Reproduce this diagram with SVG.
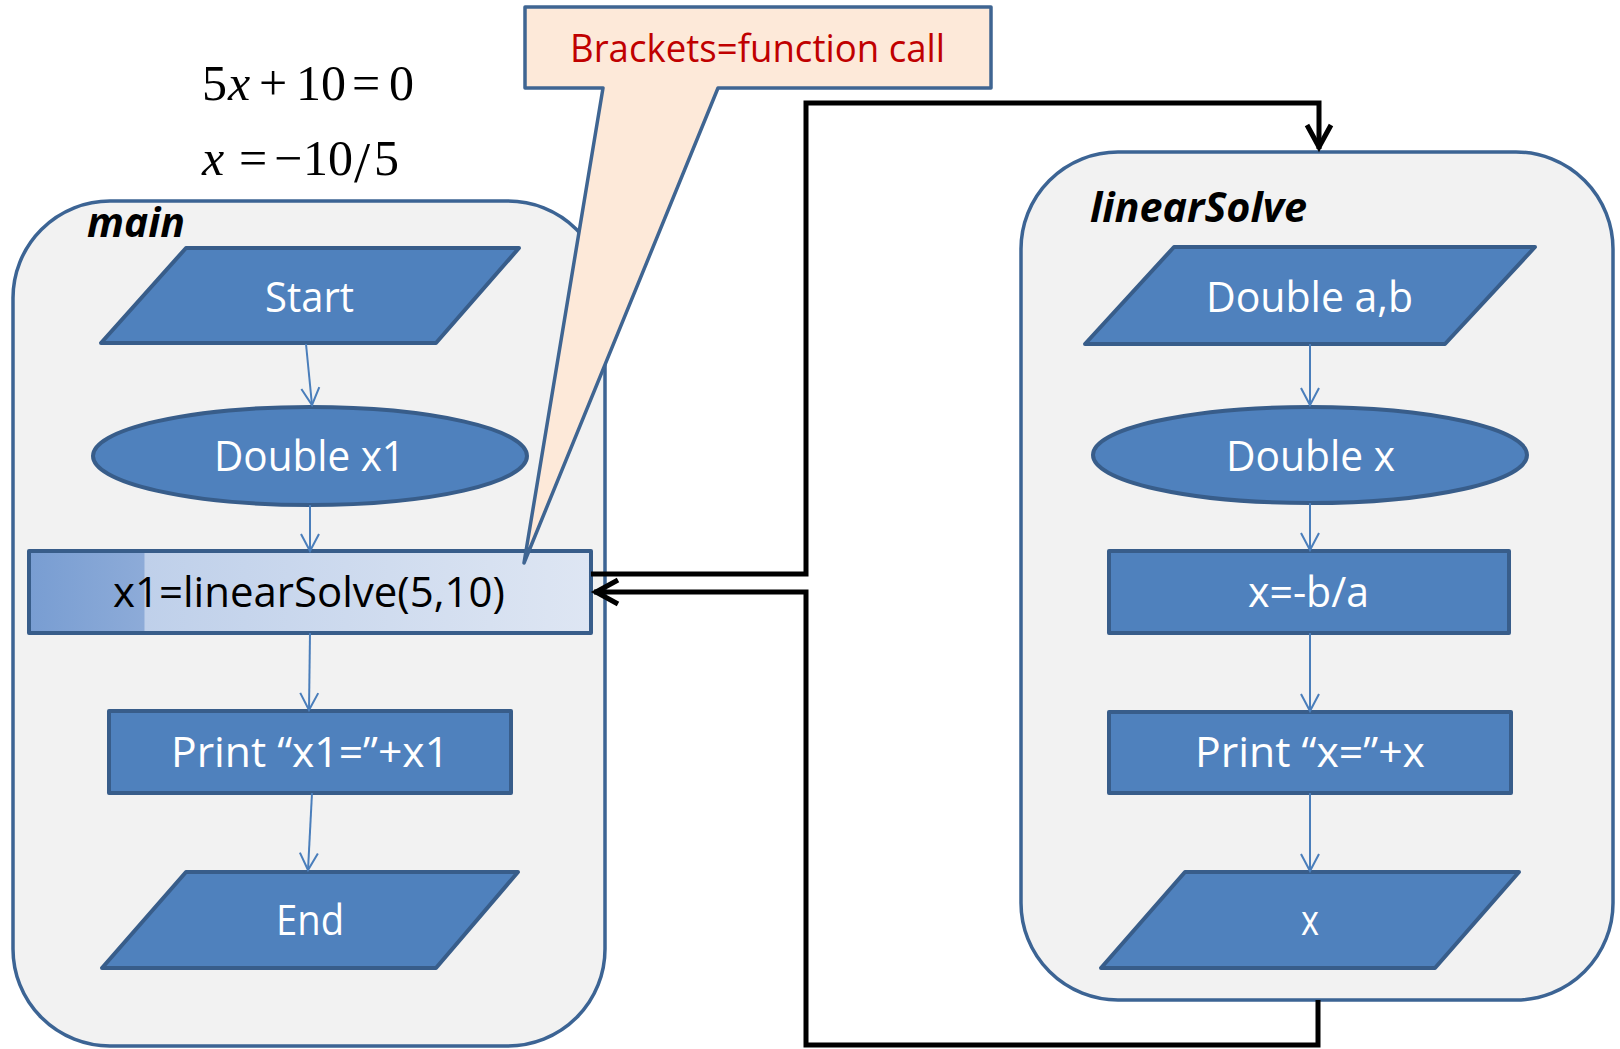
<svg xmlns="http://www.w3.org/2000/svg" width="1620" height="1049" viewBox="0 0 1620 1049">
<style>
.cont{fill:#F2F2F2;stroke:#3C6494;stroke-width:3.5}
.node{fill:#4F81BD;stroke:#385D8A;stroke-width:4;stroke-linejoin:round}
.t{font-family:"Open Sans","Liberation Sans",sans-serif;font-size:42px;fill:#FFFFFF}
.lbl{font-family:"Open Sans","Liberation Sans",sans-serif;font-size:42px;font-weight:bold;font-style:italic;fill:#000000}
.math{font-family:"Liberation Serif","Times New Roman",serif;font-size:50px;fill:#000000}
.flow{fill:none;stroke:#4A7EBB;stroke-width:2}
.call{fill:none;stroke:#000000;stroke-width:5}
</style>
<defs>
<marker id="arrBlue" viewBox="-20 -12 24 24" refX="0" refY="0" markerWidth="24" markerHeight="24" markerUnits="userSpaceOnUse" orient="auto">
<path d="M-17,-9 L0,0 L-17,9" fill="none" stroke="#4A7EBB" stroke-width="2"/>
</marker>
<marker id="arrBlack" viewBox="-30 -16 36 32" refX="2" refY="0" markerWidth="36" markerHeight="32" markerUnits="userSpaceOnUse" orient="auto">
<path d="M-22,-12 L0,0 L-22,12" fill="none" stroke="#000000" stroke-width="5"/>
</marker>
<linearGradient id="callGrad" x1="0" y1="0" x2="1" y2="0">
<stop offset="0" stop-color="#789DD2"/>
<stop offset="0.205" stop-color="#8DABD8"/>
<stop offset="0.206" stop-color="#BFD0EA"/>
<stop offset="1" stop-color="#DEE6F3"/>
</linearGradient>
</defs>

<g id="main-container">
<rect class="cont" x="13" y="201" width="592" height="845" rx="97" ry="97"/>
<text class="lbl" x="87" y="237" textLength="98" lengthAdjust="spacingAndGlyphs">main</text>
</g>

<g id="linearSolve-container">
<rect class="cont" x="1021" y="152" width="592" height="848" rx="97" ry="97"/>
<text class="lbl" x="1090" y="222" textLength="217" lengthAdjust="spacingAndGlyphs">linearSolve</text>
</g>

<g id="equations">
<text class="math" y="100"><tspan x="202">5</tspan><tspan x="228" font-style="italic">x</tspan><tspan x="259">+</tspan><tspan x="296">10</tspan><tspan x="352">=</tspan><tspan x="389">0</tspan></text>
<text class="math" y="175"><tspan x="202" font-style="italic">x</tspan><tspan x="239">=</tspan><tspan x="274">−</tspan><tspan x="303">10</tspan><tspan x="354" y="182" font-size="58">/</tspan><tspan x="374" y="175">5</tspan></text>
</g>

<g id="start">
<polygon class="node" points="101,343 186,248 519,248 436,343"/>
<text class="t" x="265" y="312" textLength="89" lengthAdjust="spacingAndGlyphs">Start</text>
</g>
<g id="double-x1">
<ellipse class="node" cx="310" cy="456" rx="217" ry="49"/>
<text class="t" x="214" y="471" textLength="191" lengthAdjust="spacingAndGlyphs">Double x1</text>
</g>
<g id="call-linearSolve">
<rect x="29" y="551" width="562" height="82" fill="url(#callGrad)" stroke="#385D8A" stroke-width="4" stroke-linejoin="round"/>
<text class="t" x="113" y="607" style="fill:#000000" textLength="392" lengthAdjust="spacingAndGlyphs">x1=linearSolve(5,10)</text>
</g>
<g id="print-x1">
<rect class="node" x="109" y="711" width="402" height="82"/>
<text class="t" x="171" y="767" textLength="278" lengthAdjust="spacingAndGlyphs">Print “x1=”+x1</text>
</g>
<g id="end">
<polygon class="node" points="102,968 186,872 518,872 436,968"/>
<text class="t" x="276" y="935" textLength="68" lengthAdjust="spacingAndGlyphs">End</text>
</g>

<g id="double-ab">
<polygon class="node" points="1085,344 1174,247 1535,247 1445,344"/>
<text class="t" x="1206" y="312" textLength="207" lengthAdjust="spacingAndGlyphs">Double a,b</text>
</g>
<g id="double-x">
<ellipse class="node" cx="1310" cy="455" rx="217" ry="48"/>
<text class="t" x="1226" y="471" textLength="169" lengthAdjust="spacingAndGlyphs">Double x</text>
</g>
<g id="compute-x">
<rect class="node" x="1109" y="551" width="400" height="82"/>
<text class="t" x="1248" y="607" textLength="121" lengthAdjust="spacingAndGlyphs">x=-b/a</text>
</g>
<g id="print-x">
<rect class="node" x="1109" y="712" width="402" height="81"/>
<text class="t" x="1195" y="767" textLength="230" lengthAdjust="spacingAndGlyphs">Print “x=”+x</text>
</g>
<g id="return-x">
<polygon class="node" points="1101,968 1185,872 1519,872 1435,968"/>
<text class="t" x="1301" y="935" textLength="18" lengthAdjust="spacingAndGlyphs">x</text>
</g>

<g id="callout">
<polygon points="525,7 991,7 991,88 718,88 524,563 603,88 525,88" fill="#FDE9D9" stroke="#3F6592" stroke-width="3.5" stroke-linejoin="round"/>
<text x="570" y="62" font-family="Open Sans, Liberation Sans, sans-serif" font-size="38" fill="#C00000" textLength="375" lengthAdjust="spacingAndGlyphs">Brackets=function call</text>
</g>

<g id="connectors">
<line class="flow" x1="306" y1="344" x2="312" y2="405" marker-end="url(#arrBlue)"/>
<line class="flow" x1="310" y1="505" x2="310" y2="551" marker-end="url(#arrBlue)"/>
<line class="flow" x1="310" y1="633" x2="309" y2="710" marker-end="url(#arrBlue)"/>
<line class="flow" x1="312" y1="793" x2="308" y2="870" marker-end="url(#arrBlue)"/>
<line class="flow" x1="1310" y1="344" x2="1310" y2="405" marker-end="url(#arrBlue)"/>
<line class="flow" x1="1310" y1="503" x2="1310" y2="550" marker-end="url(#arrBlue)"/>
<line class="flow" x1="1310" y1="633" x2="1310" y2="711" marker-end="url(#arrBlue)"/>
<line class="flow" x1="1310" y1="793" x2="1310" y2="871" marker-end="url(#arrBlue)"/>
<polyline class="call" points="591,574 806,574 806,103 1319,103 1319,149" marker-end="url(#arrBlack)"/>
<polyline class="call" points="1318,1000 1318,1045 806,1045 806,592 594,592" marker-end="url(#arrBlack)"/>
</g>
</svg>
